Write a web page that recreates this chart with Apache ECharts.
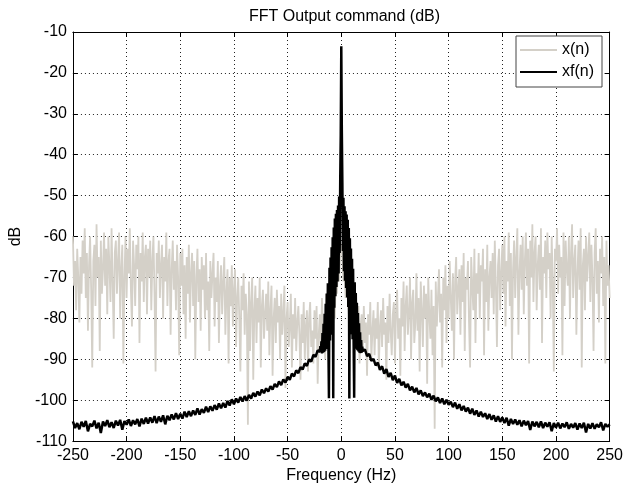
<!DOCTYPE html>
<html>
<head>
<meta charset="utf-8">
<script src="https://cdn.jsdelivr.net/npm/echarts/dist/echarts.min.js"></script>
<style>
  html, body { margin: 0; padding: 0; background: #fff; }
  #chart { width: 626px; height: 489px; }
</style>
</head>
<body>
<div id="chart"></div>
<script>
// Axis ticks
const freqTicks = [-250, -200, -150, -100, -50, 0, 50, 100, 150, 200, 250];
const dbTicks = [-110, -100, -90, -80, -70, -60, -50, -40, -30, -20, -10];

// x(n): raw command spectrum (dB), one bin per Hz from -250 to 250
const xStartHz = -250;
const xStepHz = 1;
const xDb = [
  -60,-72,-66,-78,-63,-70,-81,-65,-74,-61,
  -69,-58,-75,-64,-83,-67,-60,-73,-92,-66,
  -62,-77,-57,-70,-65,-88,-61,-74,-68,-59,
  -72,-63,-79,-60,-67,-76,-58,-71,-85,-64,
  -61,-74,-66,-59,-80,-68,-62,-91,-70,-60,
  -75,-63,-69,-58,-73,-82,-61,-67,-77,-62,
  -68,-60,-86,-64,-71,-59,-76,-65,-62,-79,
  -63,-70,-61,-78,-66,-60,-74,-93,-64,-69,
  -61,-75,-67,-62,-80,-65,-71,-59,-77,-66,
  -63,-84,-68,-61,-73,-66,-78,-62,-70,-89,
  -64,-72,-63,-79,-67,-85,-65,-74,-62,-81,
  -69,-64,-77,-66,-90,-70,-63,-76,-68,-83,
  -65,-73,-67,-80,-64,-78,-71,-88,-66,-75,
  -69,-64,-82,-70,-76,-66,-86,-72,-67,-79,
  -71,-65,-84,-74,-68,-91,-70,-77,-67,-82,
  -73,-68,-87,-75,-70,-80,-93,-72,-78,-69,
  -84,-74,-79,-106,-71,-88,-76,-70,-95,-78,
  -72,-86,-75,-81,-70,-92,-77,-73,-85,-79,
  -74,-83,-71,-89,-78,-72,-94,-80,-75,-86,
  -73,-81,-77,-90,-74,-84,-79,-72,-97,-80,
  -76,-87,-82,-74,-92,-79,-85,-75,-88,-81,
  -77,-84,-95,-79,-86,-76,-90,-82,-78,-93,
  -80,-76,-87,-83,-91,-78,-85,-77,-96,-84,
  -79,-88,-75,-84,-81,-90,-74,-86,-78,-83,
  -72,-82,-76,-70,-80,-68,-74,-66,-71,-64,
  -62,
  -65,-71,-67,-75,-69,-73,-79,-70,-84,-74,
  -80,-76,-87,-78,-85,-77,-91,-82,-79,-88,
  -77,-86,-81,-94,-79,-84,-76,-90,-83,-78,
  -89,-80,-85,-76,-92,-82,-78,-87,-75,-84,
  -81,-95,-77,-86,-74,-83,-89,-79,-76,-91,
  -78,-73,-85,-80,-94,-75,-82,-71,-88,-77,
  -72,-84,-79,-70,-90,-76,-73,-86,-81,-69,
  -83,-75,-93,-71,-78,-87,-72,-80,-74,-96,
  -70,-79,-85,-73,-89,-77,-107,-71,-82,-75,
  -68,-81,-74,-92,-70,-78,-67,-86,-72,-80,
  -66,-75,-83,-69,-90,-71,-65,-79,-73,-68,
  -84,-67,-76,-64,-88,-70,-73,-66,-81,-92,
  -65,-72,-78,-63,-86,-69,-74,-64,-80,-67,
  -71,-63,-89,-68,-76,-62,-83,-70,-66,-75,
  -64,-79,-61,-72,-87,-67,-63,-78,-69,-62,
  -74,-60,-82,-66,-71,-59,-77,-64,-90,-68,
  -61,-75,-65,-58,-84,-69,-62,-73,-60,-79,
  -66,-59,-72,-63,-91,-61,-70,-57,-76,-64,
  -60,-78,-67,-62,-73,-58,-86,-65,-69,-61,
  -75,-59,-68,-64,-80,-60,-71,-93,-63,-66,
  -58,-74,-62,-70,-65,-89,-59,-77,-61,-68,
  -72,-60,-80,-64,-57,-75,-66,-62,-84,-69,
  -61,-73,-58,-92,-67,-63,-78,-60,-71,-65,
  -59,-76,-62,-70,-88,-64,-58,-74,-66,-81,
  -63,-69,-60,-77,-65,-91,-61,-72,-67,-75
];

// xf(n): filtered spectrum (dB), coarse bins on the wings, fine bins around 0 Hz
const xfLeftStartHz = -250, xfLeftStepHz = 2;
const xfLeftDb = [
  -105.2,-106.8,-105.6,-107.1,-105.3,-106.5,-105.1,-107.6,-105.8,-106.4,
  -105.0,-106.9,-105.5,-108.0,-105.2,-106.3,-104.9,-106.6,-105.4,-106.8,
  -105.0,-106.2,-104.8,-107.2,-105.1,-106.0,-104.7,-106.3,-104.9,-105.9,
  -104.6,-106.4,-104.5,-105.8,-104.3,-105.7,-104.2,-105.5,-103.9,-105.6,
  -104.0,-105.3,-103.7,-105.9,-103.8,-104.9,-103.5,-104.7,-103.2,-104.6,
  -103.3,-104.5,-102.8,-104.1,-102.7,-103.9,-102.5,-103.6,-102.0,-103.5,
  -102.2,-103.1,-101.6,-102.9,-101.5,-102.6,-101.2,-102.3,-100.8,-102.0,
  -100.7,-101.8,-100.2,-101.3,-99.8,-101.0,-99.6,-100.6,-99.2,-100.3,
  -99.0,-100.1,-98.7,-99.6,-98.2,-99.1,-97.9,-98.8,-97.4,-98.3,
  -97.1,-97.9,-96.6,-97.4,-96.0,-96.8,-95.4,-96.3,-94.9,-95.7,
  -94.3,-95.0,-93.5,-94.2,-92.7,-93.4,-91.9,-92.5,-91.0,-91.6,
  -90.0,-90.6,-88.9,-89.4,-87.8,-88.2
];
const xfCenterStartHz = -19.5, xfCenterStepHz = 0.5;
const xfCenterDb = [
  -86.8,-88.3,-85.6,-88.6,-83.6,-88.4,-81.3,-88.2,-78.9,-87.9,
  -76.4,-87.5,-73.9,-87.0,-71.4,-86.4,-99.5,-67.6,-85.4,-65.1,
  -84.0,-62.6,-82.2,-60.2,-99.5,-57.8,-77.4,-55.6,-74.6,-54.4,
  -72.3,-53.5,-71.0,-52.4,-69.0,-50.2,-64.0,-46.5,-35.0,
  -13.5,
  -34.0,-47.0,-63.5,-50.5,-68.5,-52.6,-70.8,-53.8,-72.6,-54.6,
  -74.9,-55.9,-77.2,-57.9,-99.6,-60.4,-81.8,-62.9,-83.9,-65.4,
  -85.1,-67.9,-85.8,-99.4,-71.2,-86.9,-73.8,-87.4,-76.2,-87.8,
  -78.7,-88.1,-81.2,-88.4,-83.4,-88.5,-85.3,-88.4,-86.9
];
const xfRightStartHz = 20, xfRightStepHz = 2;
const xfRightDb = [
  -88.0,-87.6,-89.2,-88.7,-90.4,-89.9,-91.5,-90.8,-92.6,-91.7,
  -93.5,-92.4,-94.3,-93.3,-95.1,-94.0,-95.8,-94.8,-96.4,-95.5,
  -96.9,-96.0,-97.6,-96.7,-98.1,-97.0,-98.6,-97.6,-99.0,-98.1,
  -99.3,-98.4,-99.9,-98.9,-100.3,-99.3,-100.7,-99.6,-101.0,-99.9,
  -101.1,-100.4,-101.7,-100.6,-102.1,-101.0,-102.5,-101.4,-102.8,-101.8,
  -103.3,-102.1,-103.6,-102.5,-104.0,-102.8,-104.1,-103.2,-104.6,-103.4,
  -104.8,-103.7,-105.2,-103.9,-105.3,-104.2,-105.6,-104.3,-106.2,-104.6,
  -105.8,-104.7,-106.0,-104.9,-106.4,-105.0,-106.1,-105.1,-107.3,-105.2,
  -106.4,-105.3,-106.6,-105.2,-106.8,-105.5,-106.5,-105.4,-107.6,-105.6,
  -106.7,-105.5,-106.9,-105.7,-106.6,-105.4,-107.0,-105.8,-106.7,-105.6,
  -107.2,-105.7,-106.8,-105.5,-107.9,-105.8,-106.9,-105.6,-107.0,-105.9,
  -106.6,-105.4,-107.4,-105.8,-106.5,-105.9
];

// Pair each value with its bin frequency
function toPairs(startHz, stepHz, values) {
  return values.map((v, i) => [startHz + i * stepHz, v]);
}
const xSeriesData = toPairs(xStartHz, xStepHz, xDb);
const xfSeriesData = [].concat(
  toPairs(xfLeftStartHz, xfLeftStepHz, xfLeftDb),
  toPairs(xfCenterStartHz, xfCenterStepHz, xfCenterDb),
  toPairs(xfRightStartHz, xfRightStepHz, xfRightDb)
);

const FONT = '"Liberation Sans", Arial, Helvetica, sans-serif';
const dotted = { color: '#222', width: 1, type: [1, 3] };
const tickIn = { show: true, inside: true, length: 5, lineStyle: { color: '#000' } };
const GRAY = '#d4d0c8';

const chart = echarts.init(document.getElementById('chart'), null, { renderer: 'canvas' });
chart.setOption({
  animation: false,
  backgroundColor: '#fff',
  title: {
    text: 'FFT Output command (dB)',
    left: 339.5,
    top: 4,
    textAlign: 'center',
    textStyle: { fontFamily: FONT, fontSize: 16, fontWeight: 'normal', color: '#000' }
  },
  legend: {
    data: [
      { name: 'x(n)', icon: 'rect', itemStyle: { color: GRAY } },
      { name: 'xf(n)', icon: 'rect', itemStyle: { color: '#000' } }
    ],
    orient: 'vertical',
    left: 516,
    top: 36,
    padding: [6, 8, 7, 4],
    itemGap: 6,
    itemWidth: 37,
    itemHeight: 2,
    backgroundColor: '#fff',
    borderColor: '#444',
    borderWidth: 1,
    borderRadius: 0,
    textStyle: { fontFamily: FONT, fontSize: 16, color: '#000', lineHeight: 16 }
  },
  grid: { left: 69, right: 16, top: 32, bottom: 44, containLabel: false },
  xAxis: [{
    type: 'value',
    min: freqTicks[0],
    max: freqTicks[freqTicks.length - 1],
    interval: 50,
    name: 'Frequency (Hz)',
    nameLocation: 'middle',
    nameGap: 20,
    nameTextStyle: { fontFamily: FONT, fontSize: 16, color: '#000' },
    axisLine: { show: true, onZero: false, lineStyle: { color: '#000', width: 1 } },
    axisTick: tickIn,
    axisLabel: { fontFamily: FONT, fontSize: 16, color: '#000', margin: 6, showMinLabel: true, showMaxLabel: true },
    splitLine: { show: true, lineStyle: dotted }
  }, {
    type: 'value',
    position: 'top',
    min: freqTicks[0],
    max: freqTicks[freqTicks.length - 1],
    interval: 50,
    axisLine: { show: true, onZero: false, lineStyle: { color: '#000', width: 1 } },
    axisTick: tickIn,
    axisLabel: { show: false },
    splitLine: { show: false }
  }],
  yAxis: [{
    type: 'value',
    min: dbTicks[0],
    max: dbTicks[dbTicks.length - 1],
    interval: 10,
    name: 'dB',
    nameLocation: 'middle',
    nameGap: 44,
    nameTextStyle: { fontFamily: FONT, fontSize: 16, color: '#000' },
    axisLine: { show: true, onZero: false, lineStyle: { color: '#000', width: 1 } },
    axisTick: tickIn,
    axisLabel: { fontFamily: FONT, fontSize: 16, color: '#000', margin: 6, showMinLabel: true, showMaxLabel: true },
    splitLine: { show: true, lineStyle: dotted }
  }, {
    type: 'value',
    position: 'right',
    min: dbTicks[0],
    max: dbTicks[dbTicks.length - 1],
    interval: 10,
    axisLine: { show: true, onZero: false, lineStyle: { color: '#000', width: 1 } },
    axisTick: tickIn,
    axisLabel: { show: false },
    splitLine: { show: false }
  }],
  series: [{
    name: 'x(n)',
    type: 'line',
    xAxisIndex: 0,
    yAxisIndex: 0,
    data: xSeriesData,
    symbol: 'none',
    lineStyle: { color: GRAY, width: 1.8 },
    itemStyle: { color: GRAY },
    z: 2
  }, {
    name: 'xf(n)',
    type: 'line',
    xAxisIndex: 0,
    yAxisIndex: 0,
    data: xfSeriesData,
    symbol: 'none',
    lineStyle: { color: '#000', width: 2.5 },
    itemStyle: { color: '#000' },
    z: 3
  }]
});
</script>
</body>
</html>
